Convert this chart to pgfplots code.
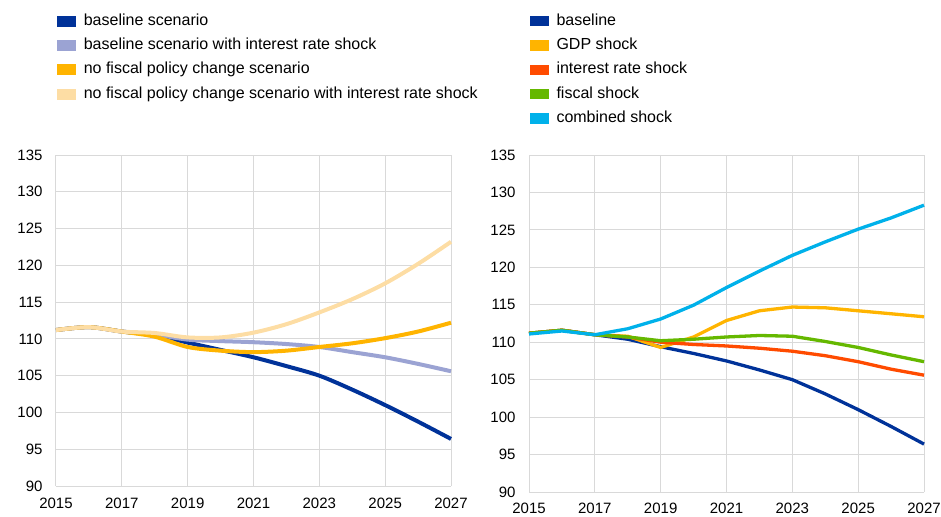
\documentclass[border=0pt]{standalone}
\usepackage{fontspec}
\setmainfont{Liberation Sans}
\usepackage{pgfplots}
\usepackage{pgfplotstable}
\pgfplotsset{compat=1.18}
\definecolor{ecbblue}{HTML}{003299}
\definecolor{ecblav}{HTML}{9BA3D3}
\definecolor{ecbyel}{HTML}{FFB400}
\definecolor{ecblyel}{HTML}{FDDDA4}
\definecolor{ecbred}{HTML}{FF4B00}
\definecolor{ecbgreen}{HTML}{65B800}
\definecolor{ecbcyan}{HTML}{00B1EA}
\definecolor{gridgray}{HTML}{D9D9D9}

\pgfplotstableread{
year base baseir nofisc nofiscir
2015 111.2 111.2 111.2 111.2
2016 111.6 111.6 111.6 111.6
2017 111.0 111.0 111.0 111.0
2018 110.5 110.6 110.3 110.8
2019 109.5 109.9 108.9 110.2
2020 108.5 109.7 108.4 110.2
2021 107.5 109.55 108.2 110.85
2022 106.3 109.3 108.4 112.0
2023 105.0 108.9 108.9 113.6
2024 103.1 108.2 109.4 115.4
2025 101.0 107.5 110.1 117.55
2026 98.75 106.6 111.0 120.2
2027 96.4 105.6 112.2 123.2
}\lefttable

\pgfplotstableread{
year base gdp ir fisc comb
2015 111.2 111.2 111.2 111.2 111.1
2016 111.6 111.6 111.6 111.6 111.5
2017 111.0 111.0 111.0 111.0 111.0
2018 110.4 110.8 110.7 110.7 111.8
2019 109.4 109.3 110.0 110.2 113.1
2020 108.5 110.7 109.7 110.4 114.95
2021 107.5 112.9 109.5 110.7 117.3
2022 106.3 114.2 109.2 110.9 119.5
2023 105.0 114.7 108.8 110.8 121.6
2024 103.1 114.6 108.2 110.1 123.4
2025 101.0 114.2 107.4 109.3 125.1
2026 98.75 113.8 106.4 108.3 126.6
2027 96.4 113.4 105.6 107.4 128.3
}\righttable

\pgfplotsset{
  common/.style={
    scale only axis,
    width=395bp,
    xmin=2015, xmax=2027, ymin=90, ymax=135,
    xtick={2015,2017,...,2027},
    ytick={90,95,...,135},
    grid=major,
    grid style={gridgray, line width=1bp},
    axis line style={gridgray, line width=1bp},
    axis x line*=bottom, axis y line*=left,
    major tick length=0pt,
    /pgf/number format/assume math mode=true,
    /pgf/number format/set thousands separator={},
    tick label style={font=\fontsize{15bp}{18bp}\selectfont, text=black},
    yticklabel style={xshift=-10bp},
    clip=false,
    legend cell align=left,
    legend image code/.code={\fill (0bp,-3.5bp) rectangle (15bp,3.5bp);},
    legend style={draw=none, fill=none, anchor=north west,
      font=\fontsize{16bp}{18bp}\selectfont,
      row sep=6.3bp,
      nodes={text height=11bp, text depth=3bp, inner sep=2bp},
      /tikz/every odd column/.append style={column sep=6bp}},
  }
}

\begin{document}
\begin{tikzpicture}
\path[use as bounding box] (0,0) rectangle (941bp,-517bp);

\begin{axis}[common, at={(56bp,-155bp)}, anchor=north west, height=331bp,
  xticklabel style={yshift=-9bp},
  legend style={at={(-0.006,1.438)}}]
\addplot[color=ecbblue, line width=4bp, smooth] table[x=year, y=base] {\lefttable};
\addlegendentry{baseline scenario}
\addplot[color=ecblav, line width=4bp, smooth] table[x=year, y=baseir] {\lefttable};
\addlegendentry{baseline scenario with interest rate shock}
\addplot[color=ecbyel, line width=4bp, smooth] table[x=year, y=nofisc] {\lefttable};
\addlegendentry{no fiscal policy change scenario}
\addplot[color=ecblyel, line width=4bp, smooth] table[x=year, y=nofiscir] {\lefttable};
\addlegendentry{no fiscal policy change scenario with interest rate shock}
\end{axis}

\begin{axis}[common, at={(529bp,-155bp)}, anchor=north west, height=337bp,
  xticklabel style={yshift=-8bp},
  legend style={at={(-0.005,1.43)}}]
\addplot[color=ecbblue, line width=3.3bp] table[x=year, y=base] {\righttable};
\addlegendentry{baseline}
\addplot[color=ecbyel, line width=3.3bp] table[x=year, y=gdp] {\righttable};
\addlegendentry{GDP shock}
\addplot[color=ecbred, line width=3.3bp] table[x=year, y=ir] {\righttable};
\addlegendentry{interest rate shock}
\addplot[color=ecbgreen, line width=3.3bp] table[x=year, y=fisc] {\righttable};
\addlegendentry{fiscal shock}
\addplot[color=ecbcyan, line width=3.3bp] table[x=year, y=comb] {\righttable};
\addlegendentry{combined shock}
\end{axis}
\end{tikzpicture}
\end{document}
